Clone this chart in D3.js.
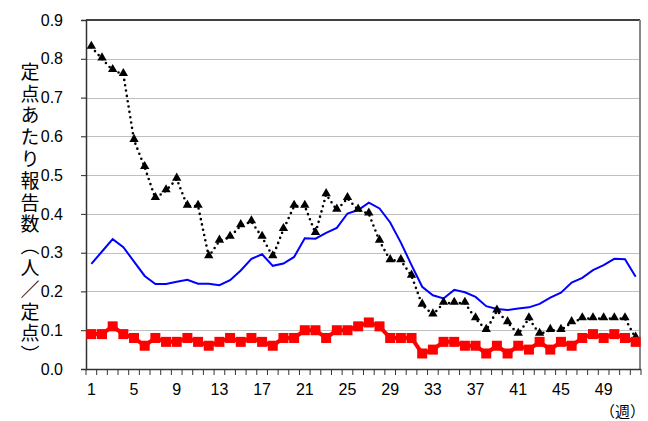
<!DOCTYPE html>
<html>
<head>
<meta charset="utf-8">
<script src="https://d3js.org/d3.v7.min.js"></script>
<style>
  body { margin: 0; background: #fff; }
  text { font-family: "Liberation Sans", Arial, sans-serif; }
</style>
</head>
<body>
<div id="plot"></div>
<script>
// week numbers
var weeks = d3.range(1, 53);

// black dotted line with triangles
var lastSeason = [0.83, 0.80, 0.77, 0.76, 0.59, 0.52, 0.44, 0.46, 0.49, 0.42,
  0.42, 0.29, 0.33, 0.34, 0.37, 0.38, 0.34, 0.29, 0.36, 0.42,
  0.42, 0.35, 0.45, 0.41, 0.44, 0.41, 0.40, 0.33, 0.28, 0.28,
  0.24, 0.165, 0.14, 0.17, 0.17, 0.17, 0.13, 0.10, 0.15, 0.12,
  0.09, 0.13, 0.09, 0.10, 0.10, 0.12, 0.13, 0.13, 0.13, 0.13,
  0.13, 0.08];

// blue solid line
var avgSeason = [0.271, 0.303, 0.335, 0.314, 0.277, 0.24, 0.219, 0.219, 0.225, 0.23,
  0.22, 0.22, 0.216, 0.229, 0.254, 0.284, 0.296, 0.266, 0.272, 0.289,
  0.337, 0.336, 0.351, 0.364, 0.401, 0.41, 0.429, 0.414, 0.378, 0.326,
  0.268, 0.212, 0.19, 0.182, 0.204, 0.198, 0.186, 0.162, 0.155, 0.152,
  0.156, 0.159, 0.168, 0.184, 0.197, 0.223, 0.235, 0.255, 0.268, 0.284,
  0.283, 0.238];

// red line with squares
var thisSeason = [0.09, 0.09, 0.11, 0.09, 0.08, 0.06, 0.08, 0.07, 0.07, 0.08,
  0.07, 0.06, 0.07, 0.08, 0.07, 0.08, 0.07, 0.06, 0.08, 0.08,
  0.10, 0.10, 0.08, 0.10, 0.10, 0.11, 0.12, 0.11, 0.08, 0.08,
  0.08, 0.04, 0.05, 0.07, 0.07, 0.06, 0.06, 0.04, 0.06, 0.04,
  0.06, 0.05, 0.07, 0.05, 0.07, 0.06, 0.08, 0.09, 0.08, 0.09,
  0.08, 0.07];

var yTicks = [0, 0.1, 0.2, 0.3, 0.4, 0.5, 0.6, 0.7, 0.8, 0.9];
var xLabelWeeks = [1, 5, 9, 13, 17, 21, 25, 29, 33, 37, 41, 45, 49];
var yTitle = "定点あたり報告数（人／定点）";
var xTitle = "（週）";

(function() {
  var width = 648, height = 421;
  var margin = { top: 20, right: 641, bottom: 369, left: 86 };

  var svg = d3.select("div#plot")
    .append("svg")
    .attr("width", width)
    .attr("height", height);

  var x = d3.scaleBand()
    .domain(weeks)
    .range([margin.left, margin.right]);

  var y = d3.scaleLinear()
    .domain([0, 0.9])
    .range([margin.bottom, margin.top]);

  function cx(d) { return x(d) + x.bandwidth() / 2; }

  // gridlines
  svg.append("g")
    .selectAll("line")
    .data(yTicks.filter(function(d) { return d > 0 && d < 0.9; }))
    .enter().append("line")
    .attr("x1", margin.left - 5)
    .attr("x2", margin.right - 1)
    .attr("y1", function(d) { return Math.round(y(d)) + 0.5; })
    .attr("y2", function(d) { return Math.round(y(d)) + 0.5; })
    .attr("stroke", "#c0c0c0")
    .attr("stroke-width", 1);

  // top border and right border
  svg.append("line")
    .attr("x1", margin.left).attr("x2", margin.right - 1)
    .attr("y1", y(0.9)).attr("y2", y(0.9))
    .attr("stroke", "#000").attr("stroke-width", 1.5);
  svg.append("line")
    .attr("x1", margin.right - 1).attr("x2", margin.right - 1)
    .attr("y1", margin.top).attr("y2", margin.bottom)
    .attr("stroke", "#888").attr("stroke-width", 2);

  // y axis
  var yAxis = d3.axisLeft(y)
    .tickValues(yTicks)
    .tickSize(5)
    .tickFormat(d3.format(".1f"));

  var gy = svg.append("g")
    .attr("transform", "translate(" + margin.left + ",0)")
    .call(yAxis);
  gy.select(".domain").attr("stroke", "#333").attr("stroke-width", 1.5);
  gy.selectAll(".tick line").attr("stroke", "#333");
  gy.selectAll(".tick text")
    .attr("x", -23)
    .attr("font-size", 16)
    .attr("fill", "#000")
    .style("font-family", "'Liberation Sans', Arial, sans-serif");

  // x axis: ticks at every band edge, labels every 4 weeks
  svg.append("line")
    .attr("x1", margin.left).attr("x2", margin.right)
    .attr("y1", margin.bottom + 0.5).attr("y2", margin.bottom + 0.5)
    .attr("stroke", "#333").attr("stroke-width", 1.5);

  svg.append("g")
    .selectAll("line")
    .data(weeks.concat([53]))
    .enter().append("line")
    .attr("x1", function(d) { return d <= 52 ? x(d) : margin.right; })
    .attr("x2", function(d) { return d <= 52 ? x(d) : margin.right; })
    .attr("y1", margin.bottom)
    .attr("y2", margin.bottom + 6)
    .attr("stroke", "#333");

  svg.append("g")
    .selectAll("text")
    .data(xLabelWeeks)
    .enter().append("text")
    .attr("x", cx)
    .attr("y", 395)
    .attr("text-anchor", "middle")
    .attr("font-size", 16)
    .text(function(d) { return d; });

  // line generator
  var line = d3.line()
    .x(function(d, i) { return cx(weeks[i]); })
    .y(function(d) { return y(d); });

  // blue line
  svg.append("path")
    .datum(avgSeason)
    .attr("d", line)
    .attr("fill", "none")
    .attr("stroke", "#0000ff")
    .attr("stroke-width", 2);

  // black dotted line
  svg.append("path")
    .datum(lastSeason)
    .attr("d", line)
    .attr("fill", "none")
    .attr("stroke", "#000")
    .attr("stroke-width", 2.6)
    .attr("stroke-linecap", "round")
    .attr("stroke-dasharray", "0 5.4");

  svg.append("g")
    .selectAll("path")
    .data(lastSeason)
    .enter().append("path")
    .attr("transform", function(d, i) { return "translate(" + cx(weeks[i]) + "," + (y(d) - 1) + ")"; })
    .attr("d", d3.symbol().type(d3.symbolTriangle).size(38))
    .attr("fill", "#000");

  // red line with squares
  svg.append("path")
    .datum(thisSeason)
    .attr("d", line)
    .attr("fill", "none")
    .attr("stroke", "#ff0000")
    .attr("stroke-width", 4);

  svg.append("g")
    .selectAll("rect")
    .data(thisSeason)
    .enter().append("rect")
    .attr("x", function(d, i) { return cx(weeks[i]) - 5; })
    .attr("y", function(d) { return y(d) - 5; })
    .attr("width", 10)
    .attr("height", 10)
    .attr("fill", "#ff0000");

  // axis titles
  svg.append("text")
    .attr("x", 30)
    .attr("y", 62)
    .style("writing-mode", "vertical-rl")
    .style("font-family", "'Noto Sans CJK JP', sans-serif")
    .attr("font-size", 19)
    .attr("letter-spacing", 2.8)
    .text(yTitle);

  svg.append("text")
    .attr("x", 645)
    .attr("y", 417)
    .attr("text-anchor", "end")
    .style("font-family", "'Noto Sans CJK JP', sans-serif")
    .attr("font-size", 15)
    .text(xTitle);
})();
</script>
</body>
</html>
